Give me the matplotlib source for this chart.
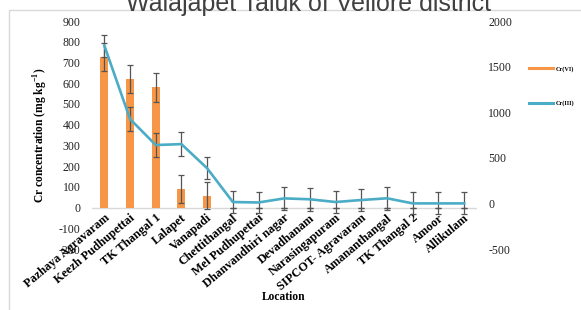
import matplotlib
matplotlib.use("Agg")
import matplotlib.pyplot as plt
from matplotlib.lines import Line2D
from matplotlib.patches import Rectangle
import matplotlib.transforms as mtransforms
import numpy as np

locations = ["Pazhaya Agravaram", "Keezh Pudhupettai", "TK Thangal 1", "Lalapet", "Vanapadi",
             "Chettithangal", "Mel Pudhupettai", "Dhanvandhiri nagar", "Devadhanam",
             "Narasingapuram", "SIPCOT- Agravaram", "Amananthangal", "TK Thangal 2",
             "Amoor", "Allikulam"]
cr6 = [725, 620, 580, 90, 58, 0, 0, 0, 0, 0, 0, 0, 0, 0, 0]
cr6_err = [67, 67, 70, 67, 67, 0, 0, 0, 0, 0, 0, 0, 0, 0, 0]
cr3 = [1730, 925, 640, 650, 385, 15, 10, 55, 45, 15, 37, 56, 0, 0, 0]
cr3_err = [120, 130, 130, 130, 120, 120, 120, 125, 125, 120, 120, 125, 120, 120, 120]
left_ticks = list(range(-200, 901, 100))
right_ticks = list(range(-500, 2001, 500))

ORANGE = "#F79646"
BLUE = "#4BACC6"
ERR = "#555555"
serif = "Liberation Serif"
plt.rcParams["font.family"] = serif
plt.rcParams["axes.unicode_minus"] = False

W, H = 581, 310
fig = plt.figure(figsize=(W / 100, H / 100), dpi=100)

# chart border
fig.patches.append(Rectangle((9 / W, -0.1), 1.2, 1 - 10 / H + 0.1, transform=fig.transFigure,
                             fill=False, edgecolor="#D9D9D9", linewidth=1.0))

ax = fig.add_axes([91.5 / W, 1 - 249 / H, (477 - 91.5) / W, (249 - 21) / H])
ax2 = ax.twinx()

x = np.arange(len(locations))
ax.bar(x, cr6, width=0.31, color=ORANGE, zorder=2)
ax.errorbar(x, cr6, yerr=cr6_err, fmt="none", ecolor=ERR, elinewidth=0.9, capsize=2.2,
            capthick=0.9, zorder=3)
ax.axhline(0, color="#D9D9D9", linewidth=1.0, zorder=1)

ax2.errorbar(x, cr3, yerr=cr3_err, fmt="none", ecolor=ERR, elinewidth=0.9, capsize=2.2,
             capthick=0.9, zorder=2)
ax2.plot(x, cr3, color=BLUE, linewidth=1.9, zorder=3)

ax.set_xlim(-0.5, len(locations) - 0.5)
ax.set_ylim(-200, 900)
ax2.set_ylim(-500, 2000)
ax.set_yticks(left_ticks)
ax2.set_yticks(right_ticks)
ax.set_xticks([])

for a in (ax, ax2):
    for s in a.spines.values():
        s.set_visible(False)
    a.tick_params(axis="y", length=0, labelsize=8.5, pad=8, labelcolor="#222222")

# category labels along the zero line
off = mtransforms.offset_copy(ax.transData, fig=fig, x=3.5, y=-9, units="dots")
for i, name in enumerate(locations):
    ax.text(i, 0, name, transform=off, rotation=40, rotation_mode="anchor",
            ha="right", va="center", fontsize=8.8, fontweight="bold", family=serif)

ax.set_ylabel("Cr concentration (mg kg$^{\\mathregular{-1}}$)", fontsize=8.3, fontweight="bold",
              family=serif, labelpad=6)
fig.text(284 / W, 1 - 297 / H, "Location", ha="center", va="center", fontsize=8.3,
         fontweight="bold", family=serif)

fig.text(309 / W, 1 - 11 / H, "Walajapet Taluk of Vellore district", ha="center",
         va="baseline", fontsize=18, color="#404040", family="Liberation Sans")

handles = [Line2D([], [], color=ORANGE, linewidth=2.2), Line2D([], [], color=BLUE, linewidth=2.2)]
fig.legend(handles, ["Cr(VI)", "Cr(III)"], loc="upper left",
           bbox_to_anchor=(529 / W, 1 - 66 / H), frameon=False,
           prop={"family": serif, "weight": "bold", "size": 4.5},
           handlelength=3.8, labelspacing=4.6, handletextpad=0.4, borderpad=0,
           borderaxespad=0)

fig.savefig("out.png", dpi=100)
